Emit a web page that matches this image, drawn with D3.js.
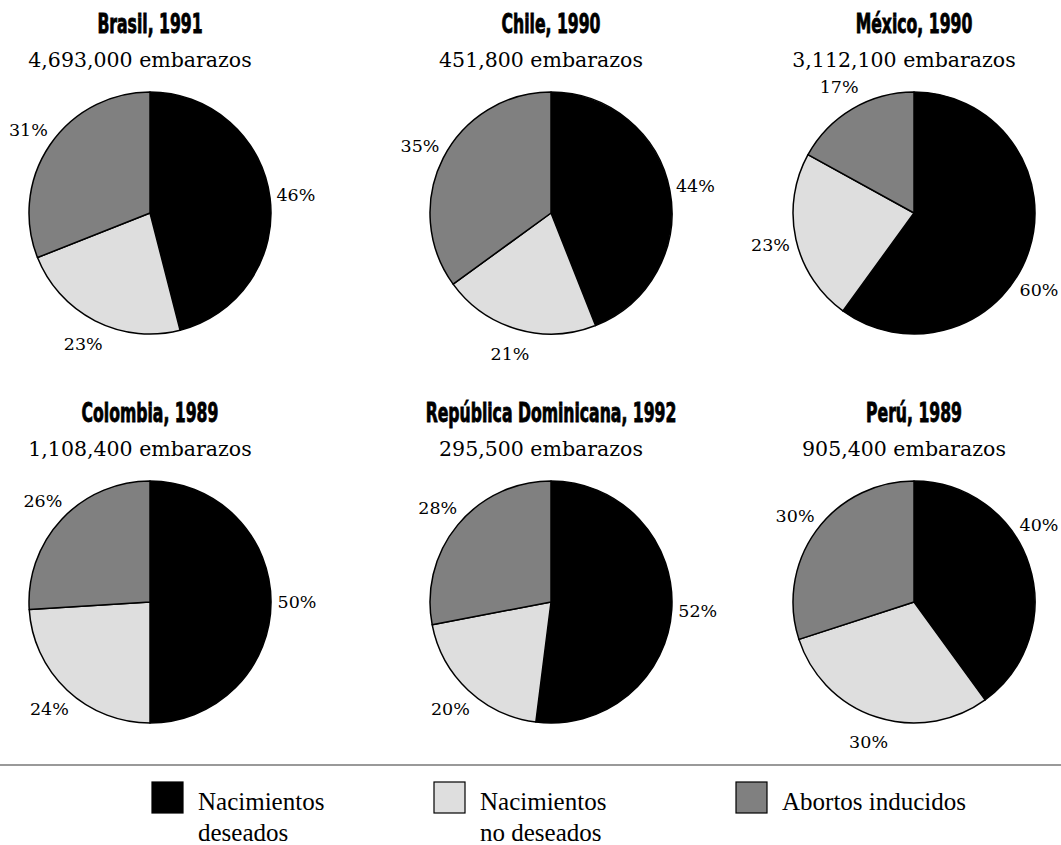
<!DOCTYPE html>
<html>
<head>
<meta charset="utf-8">
<script src="https://cdn.jsdelivr.net/npm/d3@7"></script>
<style>
  body { margin: 0; background: #fff; }
  svg { display: block; }
</style>
</head>
<body>
<svg id="chart"></svg>
<script>
// data
const paises = ["Brasil, 1991", "Chile, 1990", "México, 1990", "Colombia, 1989", "República Dominicana, 1992", "Perú, 1989"]
const embarazos = [4693000, 451800, 3112100, 1108400, 295500, 905400]
const deseados = [46, 44, 60, 50, 52, 40]
const noDeseados = [23, 21, 23, 24, 20, 30]
const abortos = [31, 35, 17, 26, 28, 30]
const categorias = ["Nacimientos deseados", "Nacimientos no deseados", "Abortos inducidos"]
const leyendaLineas = [["Nacimientos", "deseados"], ["Nacimientos", "no deseados"], ["Abortos inducidos"]]

var width = 1061
var height = 845
var radius = 121
var labelR = 147
var colX = [150, 551, 914]
var rowY = [213, 602]

var svg = d3.select("#chart")
  .attr("width", width)
  .attr("height", height)

var color = d3.scaleOrdinal()
  .domain(categorias)
  .range(["#000000", "#dedede", "#808080"])

var pie = d3.pie()
  .sort(null)
  .value(function(d) { return d.value })

var arc = d3.arc().innerRadius(0).outerRadius(radius)
var labelArc = d3.arc().innerRadius(labelR).outerRadius(labelR)

var fmt = d3.format(",")

paises.forEach(function(pais, i) {
  var cx = colX[i % 3]
  var cy = rowY[Math.floor(i / 3)]
  var vals = [deseados[i], noDeseados[i], abortos[i]]
  var data = categorias.map(function(c, j) { return { cat: c, value: vals[j] } })

  var g = svg.append("g").attr("transform", "translate(" + cx + "," + cy + ")")

  // title (heavy condensed)
  g.append("text")
    .attr("transform", "translate(0," + (-180) + ") scale(0.67,1)")
    .attr("text-anchor", "middle")
    .style("font-family", "'Liberation Sans Narrow', 'DejaVu Sans Condensed', 'Liberation Sans', sans-serif")
    .style("font-weight", "bold")
    .style("font-size", "26px")
    .style("stroke", "#000")
    .style("stroke-width", "0.8px")
    .text(pais)

  g.append("text")
    .attr("x", -10)
    .attr("y", -146)
    .attr("text-anchor", "middle")
    .style("font-family", "'DejaVu Serif', serif")
    .style("font-size", "20.5px")
    .text(fmt(embarazos[i]) + " embarazos")

  var slices = pie(data)

  g.selectAll("path")
    .data(slices)
    .enter()
    .append("path")
    .attr("d", arc)
    .attr("fill", function(d) { return color(d.data.cat) })
    .attr("stroke", "#000")
    .attr("stroke-width", 1.5)
    .attr("stroke-linejoin", "round")

  g.selectAll(".pct")
    .data(slices)
    .enter()
    .append("text")
    .attr("class", "pct")
    .attr("transform", function(d) {
      var p = labelArc.centroid(d)
      var x = p[0], y = p[1]
      // keep labels inside the page: slide along the label circle
      var maxX = width - 22 - cx
      var minX = 22 - cx
      if (x > maxX || x < minX) {
        x = x > maxX ? maxX : minX
        y = (y < 0 ? -1 : 1) * Math.sqrt(labelR * labelR - x * x)
      }
      return "translate(" + x + "," + y + ")"
    })
    .attr("text-anchor", "middle")
    .attr("dy", "0.35em")
    .style("font-family", "'DejaVu Serif', serif")
    .style("font-size", "17.5px")
    .text(function(d) { return d.data.value + "%" })
})

// separator line
svg.append("line")
  .attr("x1", 0)
  .attr("x2", width)
  .attr("y1", 765)
  .attr("y2", 765)
  .attr("stroke", "#777")
  .attr("stroke-width", 1.5)

// legend
var legX = [152, 434, 736]
var leg = svg.selectAll(".leg")
  .data(categorias)
  .enter()
  .append("g")
  .attr("class", "leg")
  .attr("transform", function(d, i) { return "translate(" + legX[i] + ",782)" })

leg.append("rect")
  .attr("width", 31)
  .attr("height", 31)
  .attr("fill", function(d) { return color(d) })
  .attr("stroke", "#000")
  .attr("stroke-width", 1.2)

leg.each(function(d, i) {
  var t = d3.select(this).append("text")
    .attr("x", 46)
    .attr("y", 28)
    .style("font-family", "'Liberation Serif', serif")
    .style("font-size", "25px")
  leyendaLineas[i].forEach(function(line, k) {
    t.append("tspan")
      .attr("x", 46)
      .attr("dy", k === 0 ? 0 : 31)
      .text(line)
  })
})
</script>
</body>
</html>
